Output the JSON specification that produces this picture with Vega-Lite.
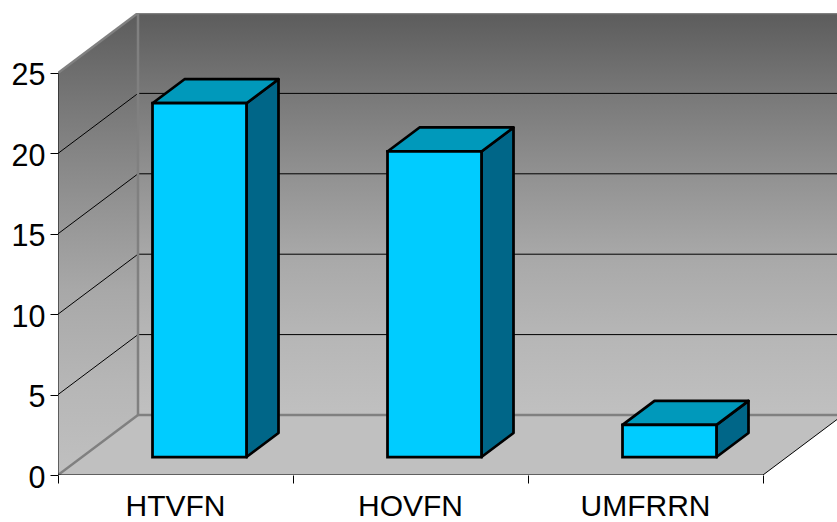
{
  "$schema": "https://vega.github.io/schema/vega-lite/v6.json",
  "width": 779,
  "height": 462,
  "autosize": "none",
  "padding": {"left": 58, "top": 13, "right": 0, "bottom": 47},
  "background": "white",
  "view": {"stroke": null},
  "config": {"font": "Liberation Sans"},
  "params": [
    {"name": "kx", "value": 0.34043},
    {"name": "ky", "value": 3.7313}
  ],
  "datasets": {
    "bars": [
      {"label": "HTVFN", "slot": 0, "value": 22},
      {"label": "HOVFN", "slot": 1, "value": 19},
      {"label": "UMFRRN", "slot": 2, "value": 2}
    ],
    "depths": [{"d": 0}, {"d": 1}],
    "edges": [
      {"kind": "grid", "a0": 0, "v0": 5, "d0": 1, "a1": 3, "v1": 5, "d1": 1},
      {"kind": "grid", "a0": 0, "v0": 10, "d0": 1, "a1": 3, "v1": 10, "d1": 1},
      {"kind": "grid", "a0": 0, "v0": 15, "d0": 1, "a1": 3, "v1": 15, "d1": 1},
      {"kind": "grid", "a0": 0, "v0": 20, "d0": 1, "a1": 3, "v1": 20, "d1": 1},
      {"kind": "grid", "a0": 0, "v0": 5, "d0": 0, "a1": 0, "v1": 5, "d1": 1},
      {"kind": "grid", "a0": 0, "v0": 10, "d0": 0, "a1": 0, "v1": 10, "d1": 1},
      {"kind": "grid", "a0": 0, "v0": 15, "d0": 0, "a1": 0, "v1": 15, "d1": 1},
      {"kind": "grid", "a0": 0, "v0": 20, "d0": 0, "a1": 0, "v1": 20, "d1": 1},
      {"kind": "wall", "a0": 0, "v0": 25, "d0": 1, "a1": 3, "v1": 25, "d1": 1},
      {"kind": "wall", "a0": 0, "v0": 0, "d0": 1, "a1": 0, "v1": 25, "d1": 1},
      {"kind": "wall", "a0": 0, "v0": 0, "d0": 1, "a1": 3, "v1": 0, "d1": 1},
      {"kind": "wall", "a0": 0, "v0": 25, "d0": 0, "a1": 0, "v1": 25, "d1": 1},
      {"kind": "wall", "a0": 0, "v0": 0, "d0": 0, "a1": 0, "v1": 0, "d1": 1},
      {"kind": "grid", "a0": 3, "v0": 0, "d0": 0, "a1": 3, "v1": 0, "d1": 1},
      {"kind": "grid", "a0": 0, "v0": 0, "d0": 0, "a1": 0, "v1": 25, "d1": 0},
      {"kind": "grid", "a0": 0, "v0": 0, "d0": 0, "a1": 3, "v1": 0, "d1": 0}
    ]
  },
  "encoding": {
    "x": {
      "field": "x",
      "type": "quantitative",
      "scale": {"domain": [0, 3.3149], "nice": false, "zero": false},
      "axis": {"title": null, "values": [0, 1, 2, 3], "labels": false, "domain": false, "grid": false, "tickSize": 8, "tickColor": "black"}
    },
    "y": {
      "field": "y",
      "type": "quantitative",
      "stack": null,
      "scale": {"domain": [0, 28.731], "nice": false, "zero": false},
      "axis": {"title": null, "values": [0, 5, 10, 15, 20, 25], "domain": false, "grid": false, "tickSize": 8, "tickColor": "black", "labelFontSize": 30.5, "labelColor": "black", "labelPadding": 5, "labelOffset": 3, "labelFont": "Liberation Sans"}
    }
  },
  "layer": [
    {
      "description": "Back wall",
      "data": {"values": [{"top": 25, "bottom": 0, "end": 3}]},
      "transform": [
        {"calculate": "kx", "as": "x"},
        {"calculate": "datum.end + kx", "as": "x2"},
        {"calculate": "datum.top + ky", "as": "y"},
        {"calculate": "datum.bottom + ky", "as": "y2"}
      ],
      "mark": {
        "type": "rect", "clip": true,
        "fill": {"gradient": "linear", "x1": 0, "y1": 0, "x2": 0, "y2": 1,
          "stops": [
            {"offset": 0, "color": "#5c5c5c"},
            {"offset": 0.2, "color": "#787878"},
            {"offset": 0.4, "color": "#919191"},
            {"offset": 0.6, "color": "#a8a8a8"},
            {"offset": 0.8, "color": "#b6b6b6"},
            {"offset": 1, "color": "#c0c0c0"}
          ]}
      },
      "encoding": {"x2": {"field": "x2"}, "y2": {"field": "y2"}}
    },
    {
      "description": "Left wall",
      "data": {"name": "depths"},
      "transform": [
        {"calculate": "datum.d * kx", "as": "x"},
        {"calculate": "25 + datum.d * ky", "as": "y"},
        {"calculate": "datum.d * ky", "as": "y2"}
      ],
      "mark": {
        "type": "area",
        "fill": {"gradient": "linear", "x1": 0, "y1": 0, "x2": 0, "y2": 1,
          "stops": [
            {"offset": 0, "color": "#5c5c5c"},
            {"offset": 0.2, "color": "#787878"},
            {"offset": 0.4, "color": "#919191"},
            {"offset": 0.6, "color": "#a8a8a8"},
            {"offset": 0.8, "color": "#b6b6b6"},
            {"offset": 1, "color": "#c0c0c0"}
          ]}
      },
      "encoding": {"y2": {"field": "y2"}}
    },
    {
      "description": "Floor",
      "data": {"name": "depths"},
      "transform": [
        {"calculate": "datum.d * kx", "as": "x"},
        {"calculate": "3 + datum.d * kx", "as": "x2"},
        {"calculate": "datum.d * ky", "as": "y"}
      ],
      "mark": {"type": "area", "orient": "horizontal", "clip": true, "fill": "#c0c0c0"},
      "encoding": {"x2": {"field": "x2"}}
    },
    {
      "description": "Gridlines, wall edges and axis lines",
      "data": {"name": "edges"},
      "transform": [
        {"calculate": "datum.a0 + datum.d0 * kx", "as": "x"},
        {"calculate": "datum.a1 + datum.d1 * kx", "as": "x2"},
        {"calculate": "datum.v0 + datum.d0 * ky", "as": "y"},
        {"calculate": "datum.v1 + datum.d1 * ky", "as": "y2"}
      ],
      "mark": {"type": "rule", "clip": true},
      "encoding": {
        "x2": {"field": "x2"},
        "y2": {"field": "y2"},
        "color": {"field": "kind", "type": "nominal", "legend": null, "scale": {"domain": ["grid", "wall"], "range": ["black", "#808080"]}},
        "strokeWidth": {"field": "kind", "type": "nominal", "legend": null, "scale": {"domain": ["grid", "wall"], "range": [1, 2.5]}}
      }
    },
    {
      "description": "Side faces of the bars",
      "data": {"name": "bars"},
      "transform": [
        {"calculate": "[0.3, 0.7]", "as": "depth"},
        {"flatten": ["depth"]},
        {"calculate": "datum.slot + 0.7 + datum.depth * kx", "as": "x"},
        {"calculate": "datum.value + datum.depth * ky", "as": "y"},
        {"calculate": "datum.depth * ky", "as": "y2"}
      ],
      "mark": {"type": "area", "fill": "#006688", "stroke": "black", "strokeWidth": 2.75, "strokeJoin": "round"},
      "encoding": {"y2": {"field": "y2"}, "detail": {"field": "label"}}
    },
    {
      "description": "Top faces of the bars",
      "data": {"name": "bars"},
      "transform": [
        {"calculate": "[0.3, 0.7]", "as": "depth"},
        {"flatten": ["depth"]},
        {"calculate": "datum.slot + 0.3 + datum.depth * kx", "as": "x"},
        {"calculate": "datum.slot + 0.7 + datum.depth * kx", "as": "x2"},
        {"calculate": "datum.value + datum.depth * ky", "as": "y"}
      ],
      "mark": {"type": "area", "orient": "horizontal", "fill": "#0099bb", "stroke": "black", "strokeWidth": 2.75, "strokeJoin": "round"},
      "encoding": {"x2": {"field": "x2"}, "detail": {"field": "label"}}
    },
    {
      "description": "Front faces of the bars",
      "data": {"name": "bars"},
      "transform": [
        {"calculate": "datum.slot + 0.3 + 0.3 * kx", "as": "x"},
        {"calculate": "datum.slot + 0.7 + 0.3 * kx", "as": "x2"},
        {"calculate": "datum.value + 0.3 * ky", "as": "y"},
        {"calculate": "0.3 * ky", "as": "y2"}
      ],
      "mark": {"type": "rect", "fill": "#00ccff", "stroke": "black", "strokeWidth": 2.75},
      "encoding": {"x2": {"field": "x2"}, "y2": {"field": "y2"}}
    },
    {
      "description": "Category labels under the floor",
      "data": {"name": "bars"},
      "transform": [
        {"calculate": "datum.slot + 0.5", "as": "x"},
        {"calculate": "0", "as": "y"}
      ],
      "mark": {"type": "text", "font": "Liberation Sans", "fontSize": 30, "color": "black", "baseline": "middle", "align": "center", "dy": 32},
      "encoding": {"text": {"field": "label"}}
    }
  ]
}
